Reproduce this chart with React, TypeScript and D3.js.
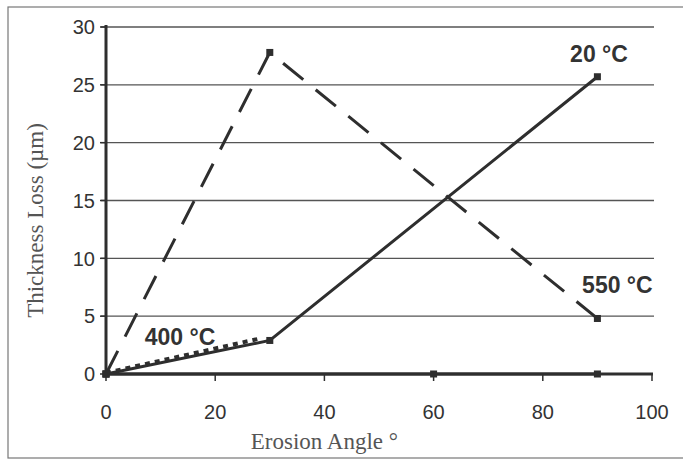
import React from "react";
import * as d3 from "d3";

// erosion angles (degrees) and thickness loss (µm)
const angles20 = [0, 30, 90];
const loss20 = [0, 2.9, 25.7];

const angles550 = [0, 30, 90];
const loss550 = [0, 27.8, 4.8];

const angles400 = [0, 28.5];
const loss400 = [0.1, 3.1];

const anglesBase = [0, 60, 90];
const lossBase = [0, 0, 0];

const xTicks = [0, 20, 40, 60, 80, 100];
const yTicks = [0, 5, 10, 15, 20, 25, 30];

const seriesLabels = ["20 °C", "550 °C", "400 °C"];
const labelAngles = [85, 87.2, 7.1];
const labelLoss = [27, 7.0, 2.5];

const W = 683;
const H = 462;
const margin = { top: 27, right: 31, bottom: 88, left: 106 };

export default function App() {
  const x = d3.scaleLinear().domain([0, 100]).range([margin.left, W - margin.right]);
  const y = d3.scaleLinear().domain([0, 30]).range([H - margin.bottom, margin.top]);

  const line = d3
    .line<[number, number]>()
    .x((d) => x(d[0]))
    .y((d) => y(d[1]));

  const zip = (a: number[], b: number[]) => a.map((v, i) => [v, b[i]] as [number, number]);

  const s20 = zip(angles20, loss20);
  const s550 = zip(angles550, loss550);
  const s400 = zip(angles400, loss400);
  const sBase = zip(anglesBase, lossBase);

  const ink = "#2e2e2e";
  const marker = (pts: [number, number][], key: string) =>
    pts.map((p, i) => (
      <rect key={key + i} x={x(p[0]) - 3.5} y={y(p[1]) - 3.5} width={7} height={7} fill={ink} />
    ));

  return (
    <svg
      width={W}
      height={H}
      style={{ position: "absolute", left: 0, top: 0, background: "#fff" }}
      fontFamily="'Liberation Sans', Arial, sans-serif"
    >
      {/* frame */}
      <rect x={8} y={7} width={700} height={451} fill="none" stroke="#777" strokeWidth={1.2} />

      {/* gridlines */}
      {yTicks.filter((t) => t > 0).map((t) => (
        <line key={"g" + t} x1={x(0) - 5} x2={x(100) + 2} y1={y(t)} y2={y(t)} stroke="#555" strokeWidth={1.3} />
      ))}

      {/* y ticks */}
      {yTicks.map((t) => (
        <g key={"yt" + t}>
          <line x1={x(0) - 6} x2={x(0)} y1={y(t)} y2={y(t)} stroke={ink} strokeWidth={1.5} />
          <text x={x(0) - 11} y={y(t)} dy="0.36em" textAnchor="end" fontSize={20} fill="#333">
            {t}
          </text>
        </g>
      ))}

      {/* x ticks */}
      {xTicks.map((t) => (
        <g key={"xt" + t}>
          <line x1={x(t)} x2={x(t)} y1={y(0)} y2={y(0) + 7} stroke={ink} strokeWidth={1.5} />
          <text x={x(t)} y={y(0) + 45} textAnchor="middle" fontSize={20} fill="#333">
            {t}
          </text>
        </g>
      ))}

      {/* series */}
      <path d={line(s550) ?? ""} fill="none" stroke={ink} strokeWidth={3} strokeDasharray="26,16" />
      <path d={line(s20) ?? ""} fill="none" stroke={ink} strokeWidth={3} />
      <path d={line(s400) ?? ""} fill="none" stroke={ink} strokeWidth={4} strokeDasharray="5,5" />
      <path d={line(sBase) ?? ""} fill="none" stroke={ink} strokeWidth={3} />
      {marker(s20, "a")}
      {marker(s550, "b")}
      {marker(sBase, "c")}

      {/* axes */}
      <line x1={x(0)} x2={x(0)} y1={y(30) - 2} y2={y(0) + 2} stroke={ink} strokeWidth={3} />
      <line x1={x(0)} x2={x(100) + 1} y1={y(0)} y2={y(0)} stroke={ink} strokeWidth={3} />

      {/* series labels */}
      {seriesLabels.map((s, i) => (
        <text key={s} x={x(labelAngles[i])} y={y(labelLoss[i])} fontSize={23} fontWeight="bold" fill="#333">
          {s}
        </text>
      ))}

      {/* axis titles */}
      <text
        x={x(40)}
        y={449}
        textAnchor="middle"
        fontFamily="'Liberation Serif', 'Times New Roman', serif"
        fontSize={23}
        fill="#555"
      >
        Erosion Angle °
      </text>
      <text
        transform={`translate(43, ${(y(0) + y(30)) / 2 + 20}) rotate(-90)`}
        textAnchor="middle"
        fontFamily="'Liberation Serif', 'Times New Roman', serif"
        fontSize={23}
        fill="#555"
      >
        Thickness Loss (µm)
      </text>
    </svg>
  );
}
